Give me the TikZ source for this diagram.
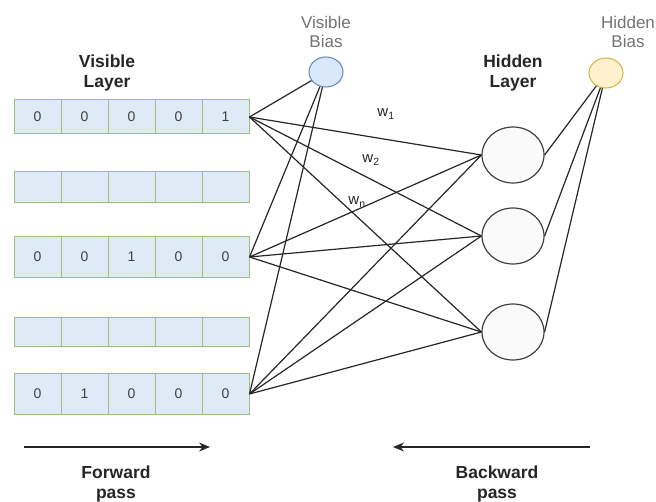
\documentclass[tikz,border=0pt]{standalone}
\usepackage{fontspec}
\setmainfont{Liberation Sans}
\usetikzlibrary{arrows.meta,shapes.geometric}
\definecolor{cellfill}{HTML}{DFEAF7}
\definecolor{cellline}{HTML}{9EBF82}
\definecolor{vbfill}{HTML}{DAE8FC}
\definecolor{vbline}{HTML}{6C8EBF}
\definecolor{hbfill}{HTML}{FFF2CC}
\definecolor{hbline}{HTML}{D6B656}
\tikzset{
  cell/.style={draw=cellline, fill=cellfill, line width=1pt, minimum width=47pt, inner sep=0pt, text=black!75, font=\fontsize{14}{16}\selectfont},
  unit/.style={ellipse, draw=black!75, fill=black!2, line width=1.2pt, minimum width=62pt, minimum height=56pt},
  vbias/.style={ellipse, draw=vbline, fill=vbfill, line width=1.1pt, minimum width=34pt, minimum height=30pt},
  hbias/.style={ellipse, draw=hbline, fill=hbfill, line width=1.1pt, minimum width=34pt, minimum height=30pt},
  title/.style={align=center, text=black!85, font=\bfseries\fontsize{17.5}{20}\selectfont},
  biaslabel/.style={align=center, text=black!55, font=\fontsize{17}{19}\selectfont},
  weight/.style={text=black!85, font=\fontsize{15}{17}\selectfont},
  link/.style={draw=black!85, line width=1.2pt},
  pass/.style={draw=black!85, line width=1.3pt, -{Stealth[length=11pt,width=9pt]}}
}
\begin{document}
\begin{tikzpicture}[x=1pt, y=-1pt]
  \useasboundingbox (0,0) rectangle (656,502);
  % visible rows
  \foreach \r/\y/\h/\vals in {1/117/34/{0,0,0,0,1}, 3/257/41/{0,0,1,0,0}, 5/394/41/{0,1,0,0,0}} {
    \foreach \v [count=\i] in \vals
      \node[cell, minimum height=\h pt] (c\r-\i) at (47*\i-9.5, \y) {\v};
  }
  \foreach \r/\y/\h in {2/187/31, 4/332/29} {
    \foreach \i in {1,...,5}
      \node[cell, minimum height=\h pt] (c\r-\i) at (47*\i-9.5, \y) {};
  }
  % hidden units and biases
  \node[unit] (h1) at (513,155) {};
  \node[unit] (h2) at (513,236) {};
  \node[unit] (h3) at (513,332) {};
  \node[vbias] (vb) at (326,72) {};
  \node[hbias] (hb) at (606,73) {};
  % links
  \foreach \v in {1,3,5} {
    \foreach \h in {1,2,3}
      \draw[link] (c\v-5.east) -- (h\h.west);
    \draw[link] (vb) -- (c\v-5.east);
  }
  \foreach \h in {1,2,3}
    \draw[link] (hb) -- (h\h.east);
  % weights
  \node[weight] (w1) at (386,114) {w\textsubscript{1}};
  \node[weight] (w2) at (371,160) {w\textsubscript{2}};
  \node[weight] (wn) at (357,202) {w\textsubscript{n}};
  % labels
  \node[title] (vlabel) at (107,73) {Visible\\Layer};
  \node[title] (hlabel) at (513,73) {Hidden\\Layer};
  \node[biaslabel] (vblabel) at (326,32) {Visible\\Bias};
  \node[biaslabel] (hblabel) at (628,32) {Hidden\\Bias};
  % passes
  \coordinate (f0) at (24,447);
  \coordinate (f1) at (210,447);
  \coordinate (b0) at (590,447);
  \coordinate (b1) at (393,447);
  \draw[pass] (f0) -- (f1);
  \draw[pass] (b0) -- (b1);
  \node[title] (fwd) at (116,484) {Forward\\pass};
  \node[title] (bwd) at (497,484) {Backward\\pass};
\end{tikzpicture}
\end{document}
